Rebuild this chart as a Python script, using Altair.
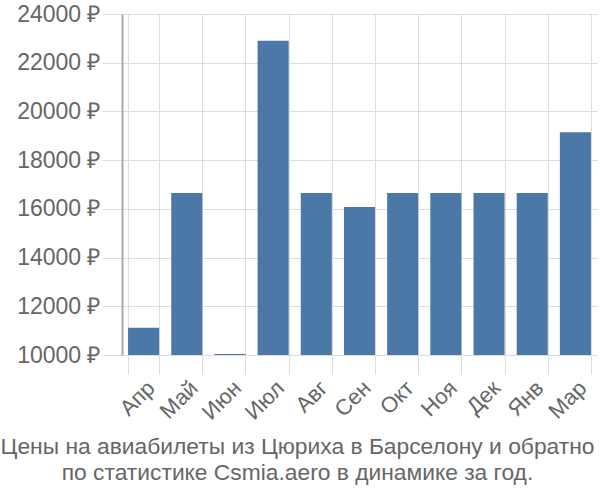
import altair as alt
import pandas as pd

months = ["Апр", "Май", "Июн", "Июл", "Авг", "Сен", "Окт", "Ноя", "Дек", "Янв", "Мар"]
prices = [11120, 16650, 10040, 22900, 16650, 16080, 16650, 16650, 16650, 16650, 19150]
y_ticks = [10000, 12000, 14000, 16000, 18000, 20000, 22000, 24000]

df = pd.DataFrame({"month": months, "price": prices})

axis_font = "Liberation Sans"
title_font = "Liberation Sans"
grid_color = "#dddddd"
text_color = "#666666"

chart = alt.Chart(df).mark_bar(color="#4c78a8", clip=True).encode(
    x=alt.X("month:N", sort=months, title=None,
            scale=alt.Scale(paddingInner=0.28, paddingOuter=0.14),
            axis=alt.Axis(labelAngle=-45, labelFontSize=22, labelColor=text_color,
                          labelFont=axis_font, grid=True, gridColor=grid_color,
                          bandPosition=0, tickBand="extent",
                          tickColor=grid_color, tickSize=19, domain=False,
                          labelPadding=3)),
    y=alt.Y("price:Q", title=None,
            scale=alt.Scale(domain=[10000, 24000], nice=False, zero=False),
            axis=alt.Axis(values=y_ticks, labelExpr="datum.value + ' ₽'",
                          labelFontSize=23, labelColor=text_color, labelFont=axis_font,
                          gridColor=grid_color, tickColor=grid_color, tickSize=20,
                          domainColor="#aaaaaa", domainWidth=2, labelPadding=2)),
).properties(
    width=475, height=341,
    autosize=alt.AutoSizeParams(type="none"),
    padding={"left": 122, "top": 14, "right": 3, "bottom": 145},
    title=alt.TitleParams(
        text=["Цены на авиабилеты из Цюриха в Барселону и обратно",
              "по статистике Csmia.aero в динамике за год."],
        orient="bottom", anchor="middle", fontSize=22.8, font=title_font,
        color=text_color, fontWeight="normal", offset=13, lineHeight=26,
        dx=-62),
).configure_view(stroke=None)

chart.save("out.html", embed_options={"renderer": "svg", "actions": False})
